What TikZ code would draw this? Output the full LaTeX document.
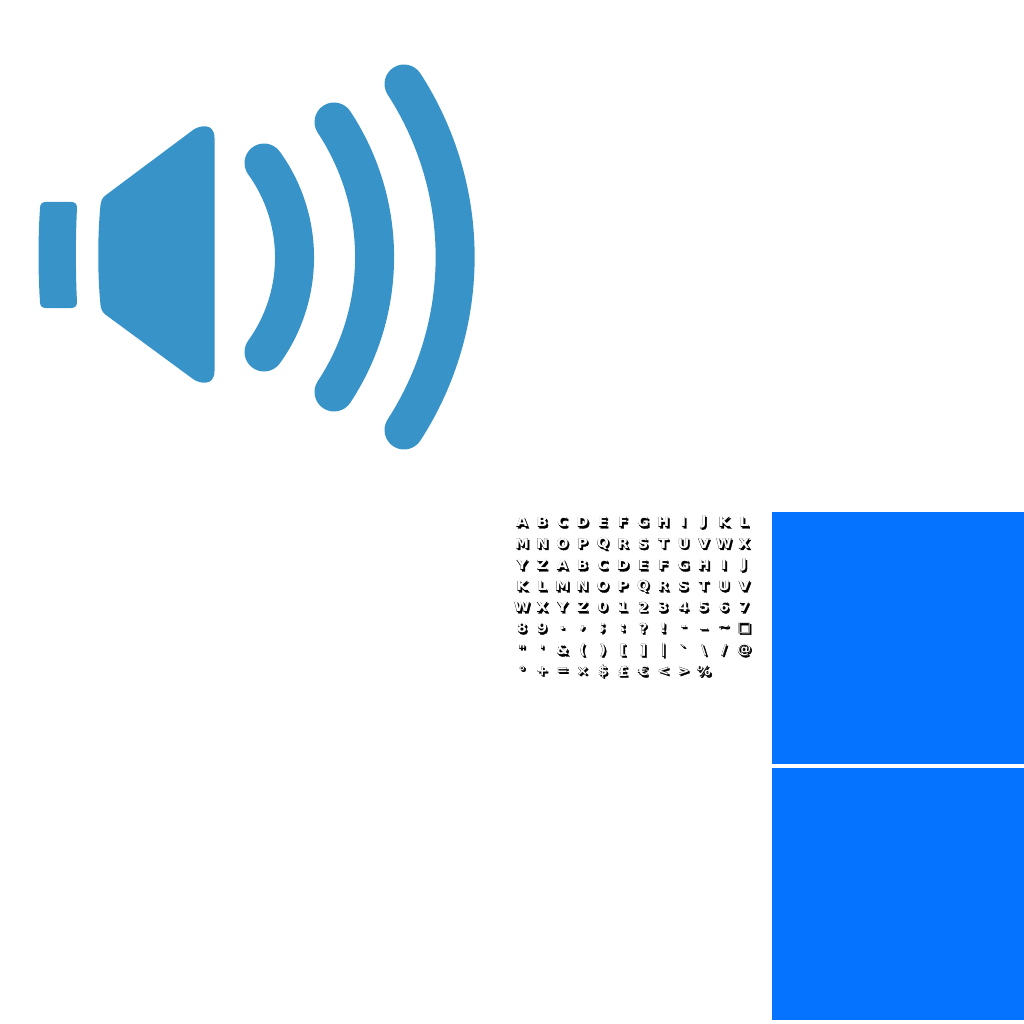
\documentclass[tikz,border=0pt]{standalone}
\usepackage{fontspec}
\usepackage{xcolor}
\newfontfamily\glyphface{DejaVu Sans Bold}[FakeStretch=1.05]
\newfontfamily\glyphedge{DejaVu Sans Bold}[FakeStretch=1.05,FakeBold=2.5]
\definecolor{speakerblue}{HTML}{3894C8}
\definecolor{panelblue}{HTML}{0573FF}
\tikzset{
  speaker/.style={fill=speakerblue, draw=none},
  wave/.style={draw=speakerblue, line width=39pt, line cap=round},
  panel/.style={fill=panelblue, draw=none},
  glyphtext/.style={inner sep=0pt, anchor=center, font=\fontsize{13.5}{13.5}\selectfont},
}
% one row of the sheet: y position, then the characters
\newcommand{\glyphrow}[2]{
  \foreach \ch [count=\i from 0] in {#2} {
    \node [glyphtext, text=black] at (522+20.2*\i+1.5, #1+1.5) {\glyphedge\ch};
    \node [glyphtext, text=black] at (522+20.2*\i, #1) {\glyphedge\ch};
    \node [glyphtext, text=white] at (522+20.2*\i, #1) {\glyphface\ch};
  }
}
\begin{document}
\begin{tikzpicture}[x=1pt, y=-1pt]
\useasboundingbox (0, 0) rectangle (1024, 1024);
% speaker
\fill [speaker] (46, 202) -- (71, 202) .. controls (75, 202) and (77, 204) .. (77, 208)
  .. controls (75.5, 238) and (75.5, 272) .. (77, 302) .. controls (77, 306) and (75, 308) .. (71, 308)
  -- (46, 308) .. controls (42, 308) and (40, 306) .. (40, 302)
  .. controls (38, 272) and (38, 238) .. (40, 208) .. controls (40, 204) and (42, 202) .. (46, 202) -- cycle;
\fill [speaker] (193, 130) .. controls (199, 125.5) and (214.5, 122) .. (214.5, 138) -- (214.5, 371)
  .. controls (214.5, 387) and (199, 383.5) .. (193, 379) -- (106, 315)
  .. controls (102, 312) and (101, 309) .. (100.5, 305)
  .. controls (97.5, 275) and (97.5, 235) .. (100.5, 205)
  .. controls (101, 201) and (102, 198) .. (106, 195) -- cycle;
\draw [wave] (264, 163) .. controls (304.7, 219.4) and (304.7, 295.6) .. (264, 352);
\draw [wave] (334, 122) .. controls (388.1, 204) and (388.1, 310) .. (334, 392);
\draw [wave] (404, 84) .. controls (472.2, 189.4) and (472.2, 324.6) .. (404, 430);
% glyph sheet
\glyphrow{522}{A,B,C,D,E,F,G,H,I,J,K,L}
\glyphrow{543.5}{M,N,O,P,Q,R,S,T,U,V,W,X}
\glyphrow{565}{Y,Z,A,B,C,D,E,F,G,H,I,J}
\glyphrow{586}{K,L,M,N,O,P,Q,R,S,T,U,V}
\glyphrow{607}{W,X,Y,Z,0,1,2,3,4,5,6,7}
\glyphrow{628}{8,9,.,{,},;,:,?,!,-,\_,\textasciitilde,□}
\glyphrow{650}{",',\&,{(},{)},[,],|,`,\textbackslash,/,@}
\glyphrow{671}{°,+,=,×,\$,£,€,<,>,\%}
% panels
\fill [panel] (772, 512) rectangle (1024, 764);
\fill [panel] (772, 768) rectangle (1024, 1020);
\end{tikzpicture}
\end{document}
